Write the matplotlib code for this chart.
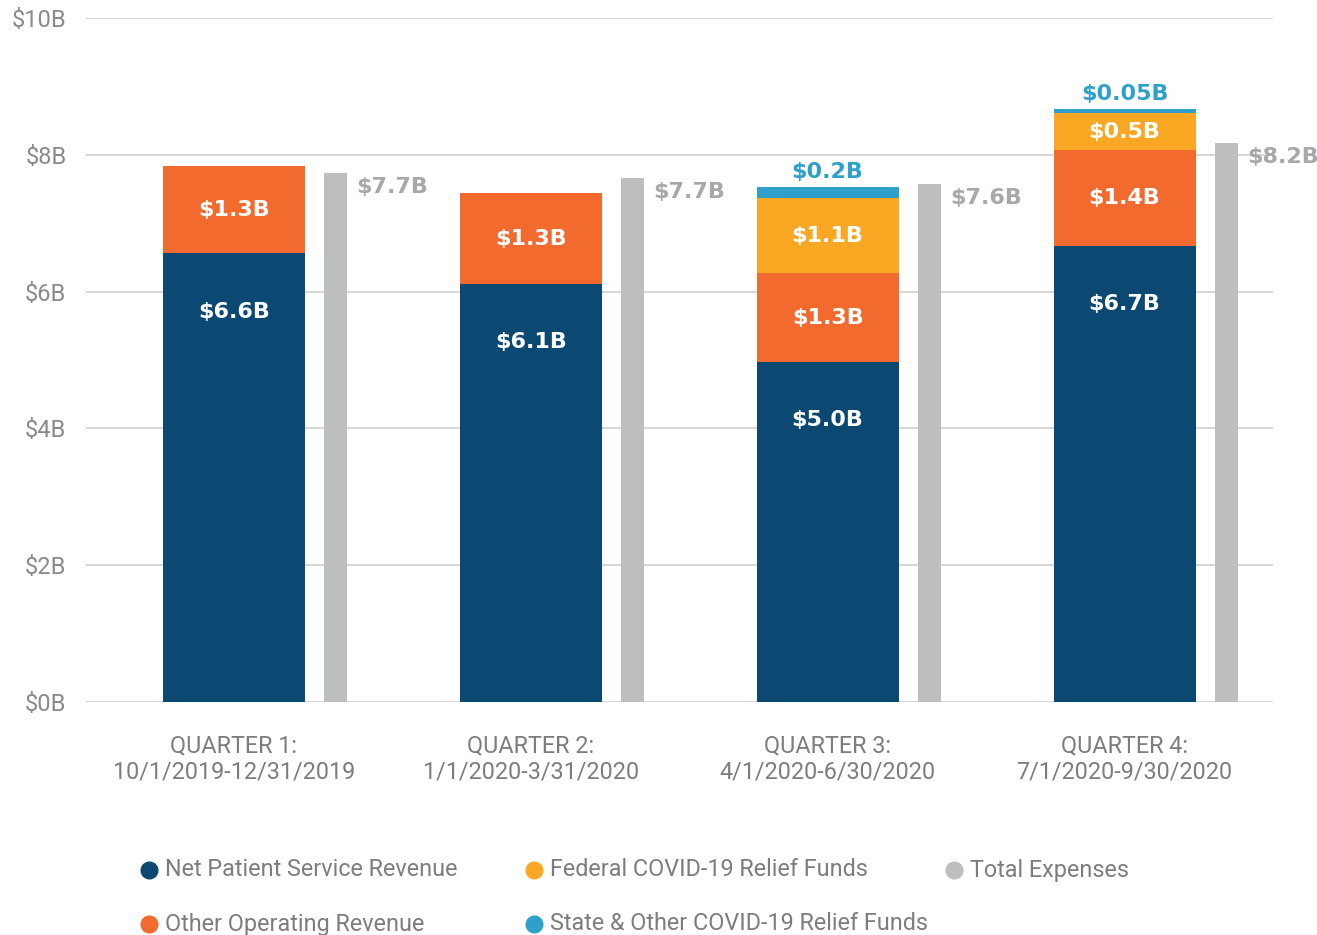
import matplotlib
matplotlib.use("Agg")
import matplotlib.pyplot as plt
from matplotlib.lines import Line2D
import numpy as np

quarters = ["QUARTER 1:\n10/1/2019-12/31/2019", "QUARTER 2:\n1/1/2020-3/31/2020",
            "QUARTER 3:\n4/1/2020-6/30/2020", "QUARTER 4:\n7/1/2020-9/30/2020"]
net_patient = [6.56, 6.11, 4.97, 6.67]
other_operating = [1.28, 1.33, 1.30, 1.40]
federal_relief = [0.0, 0.0, 1.10, 0.54]
state_relief = [0.0, 0.0, 0.16, 0.06]
total_expenses = [7.73, 7.66, 7.57, 8.17]

net_labels = ["$6.6B", "$6.1B", "$5.0B", "$6.7B"]
other_labels = ["$1.3B", "$1.3B", "$1.3B", "$1.4B"]
federal_labels = ["", "", "$1.1B", "$0.5B"]
state_labels = ["", "", "$0.2B", "$0.05B"]
expense_labels = ["$7.7B", "$7.7B", "$7.6B", "$8.2B"]

yticks = [0, 2, 4, 6, 8, 10]
ytick_labels = ["$0B", "$2B", "$4B", "$6B", "$8B", "$10B"]

C_NAVY = "#0b4872"
C_ORANGE = "#f26a2e"
C_YELLOW = "#faa824"
C_CYAN = "#2ea0cb"
C_GRAY = "#bdbec0"
C_LBL_GRAY = "#a6a8ab"
C_TXT = "#7d7d7d"

plt.rcParams['font.family'] = ['Roboto', 'DejaVu Sans']

fig = plt.figure(figsize=(13.17, 9.35), dpi=100)
ax = fig.add_axes([86/1317, 1-702/935, (1273-86)/1317, (702-18)/935])

x = np.arange(len(quarters))
w_rev = 0.478
w_exp = 0.0774
off_exp = 0.342

net = np.array(net_patient)
oth = np.array(other_operating)
fed = np.array(federal_relief)
sta = np.array(state_relief)

ax.bar(x, net, width=w_rev, color=C_NAVY, zorder=3)
ax.bar(x, oth, width=w_rev, bottom=net, color=C_ORANGE, zorder=3)
ax.bar(x, fed, width=w_rev, bottom=net+oth, color=C_YELLOW, zorder=3)
ax.bar(x, sta, width=w_rev, bottom=net+oth+fed, color=C_CYAN, zorder=3)
ax.bar(x + off_exp, total_expenses, width=w_exp, color=C_GRAY, zorder=3)

lbl_kw = dict(ha='center', va='center', fontsize=16, fontweight='bold',
              family='DejaVu Sans', zorder=5)
for i in range(len(quarters)):
    ax.annotate(net_labels[i], (x[i], net[i]), xytext=(0, -42), textcoords='offset points',
                color='white', **lbl_kw)
    ax.text(x[i], net[i] + oth[i]/2, other_labels[i], color='white', **lbl_kw)
    if federal_labels[i]:
        ax.text(x[i], net[i] + oth[i] + fed[i]/2, federal_labels[i], color='white', **lbl_kw)
    if state_labels[i]:
        ax.annotate(state_labels[i], (x[i], net[i] + oth[i] + fed[i] + sta[i]),
                    xytext=(0, 11), textcoords='offset points', color=C_CYAN, **lbl_kw)
    ax.annotate(expense_labels[i], (x[i] + off_exp + w_exp/2, total_expenses[i]),
                xytext=(7, -10), textcoords='offset points', color=C_LBL_GRAY,
                ha='left', va='center', fontsize=16, fontweight='bold',
                family='DejaVu Sans', zorder=5)

ax.set_xlim(-0.498, 3.5)
ax.set_ylim(0, 10)
ax.set_yticks(yticks)
ax.set_yticklabels(ytick_labels, fontsize=17, color="#8a8a8a")
ax.set_xticks(x)
ax.set_xticklabels(quarters, fontsize=16.8, color=C_TXT, linespacing=1.2)
ax.tick_params(axis='both', length=0)
ax.tick_params(axis='y', pad=14)
ax.tick_params(axis='x', pad=23)
ax.grid(axis='y', color="#cfcfcf", linewidth=1.2, zorder=0)
ax.set_axisbelow(True)
for s in ax.spines.values():
    s.set_visible(False)

# legend
leg_items = [
    (149, 870, C_NAVY, "Net Patient Service Revenue"),
    (149, 924, C_ORANGE, "Other Operating Revenue"),
    (534, 870, C_YELLOW, "Federal COVID-19 Relief Funds"),
    (534, 924, C_CYAN, "State & Other COVID-19 Relief Funds"),
    (954, 870, C_GRAY, "Total Expenses"),
]
for px, py, col, txt in leg_items:
    fx, fy = px/1317, 1 - py/935
    fig.add_artist(Line2D([fx], [fy], marker='o', markersize=12, color=col,
                          linestyle='none', transform=fig.transFigure))
    fig.text(fx + 16/1317, fy, txt, ha='left', va='center', fontsize=16.8, color=C_TXT)

fig.savefig("out.png", dpi=100)
